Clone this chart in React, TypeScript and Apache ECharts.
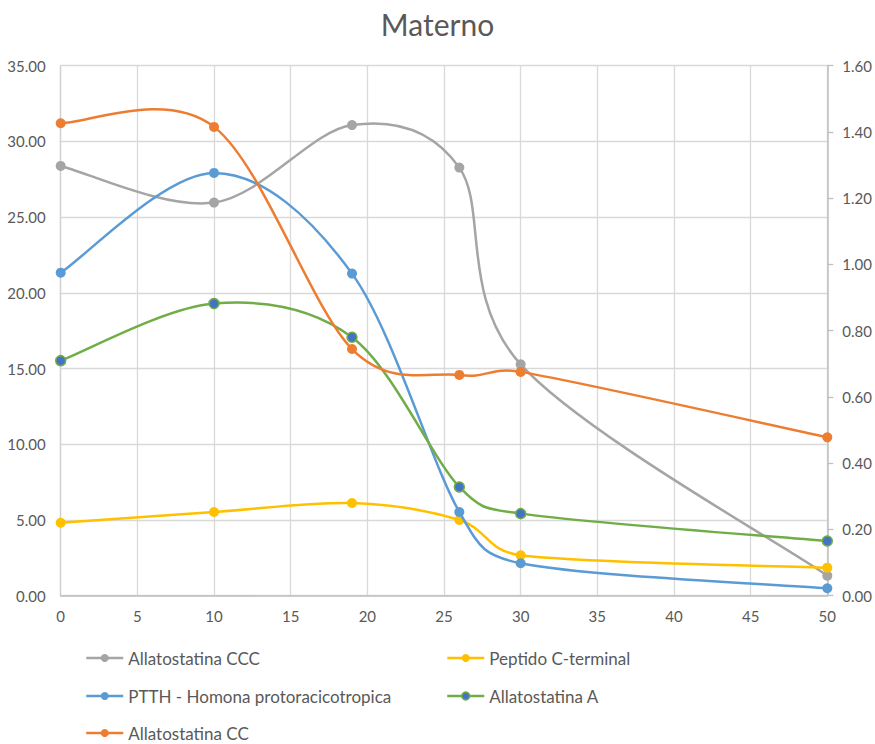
import React, { useEffect, useRef } from "react";
import * as echarts from "echarts";

// Sampling times (x axis)
const hours = [0, 10, 19, 26, 30, 50];

// Series values
const allatostatinaCCC = [28.38, 25.96, 31.08, 28.27, 15.28, 1.32];
const peptidoCTerminal = [4.82, 5.53, 6.12, 5.0, 2.67, 1.85];
const ptthHomona = [21.33, 27.92, 21.27, 5.53, 2.14, 0.49];
const allatostatinaA = [15.52, 19.29, 17.07, 7.18, 5.42, 3.61];
const allatostatinaCC = [31.2, 30.96, 16.29, 14.58, 14.78, 10.46];

const seriesNames = [
  "Allatostatina CCC",
  "Peptido C-terminal",
  "PTTH - Homona protoracicotropica",
  "Allatostatina A",
  "Allatostatina CC",
];

const FONT = "Lato, 'Noto Sans', sans-serif";
const TEXT = "#595959";

type SeriesDef = {
  name: string;
  values: number[];
  color: string;
  fill: string;
};

const defs: SeriesDef[] = [
  { name: seriesNames[0], values: allatostatinaCCC, color: "#A5A5A5", fill: "#A5A5A5" },
  { name: seriesNames[1], values: peptidoCTerminal, color: "#FFC000", fill: "#FFC000" },
  { name: seriesNames[2], values: ptthHomona, color: "#5B9BD5", fill: "#5B9BD5" },
  { name: seriesNames[3], values: allatostatinaA, color: "#70AD47", fill: "#4472C4" },
  { name: seriesNames[4], values: allatostatinaCC, color: "#ED7D31", fill: "#ED7D31" },
];

// Control point offset: a sixth of the neighbour-to-neighbour vector,
// never longer than half of the segment it belongs to.
function controlOffset(from: number[], to: number[], segLen: number) {
  const vx = (to[0] - from[0]) / 6;
  const vy = (to[1] - from[1]) / 6;
  const len = Math.hypot(vx, vy);
  const maxLen = segLen / 2;
  const k = len > maxLen && len > 0 ? maxLen / len : 1;
  return [vx * k, vy * k];
}

// Smoothed curve drawn as one cubic Bezier per pair of neighbouring points.
function curveSeries(d: SeriesDef, z: number) {
  return {
    type: "custom",
    name: d.name,
    z,
    silent: true,
    data: hours.map((h, i) => [h, d.values[i]]),
    encode: { x: 0, y: 1 },
    renderItem: (params: any, api: any) => {
      const i = params.dataIndex;
      const n = hours.length;
      if (i >= n - 1) return null;
      const pts = hours.map((h, j) => api.coord([h, d.values[j]]));
      const prev = pts[Math.max(i - 1, 0)];
      const a = pts[i];
      const b = pts[i + 1];
      const next = pts[Math.min(i + 2, n - 1)];
      const segLen = Math.hypot(b[0] - a[0], b[1] - a[1]);
      const o1 = controlOffset(prev, b, segLen);
      const o2 = controlOffset(a, next, segLen);
      return {
        type: "bezierCurve",
        shape: {
          x1: a[0],
          y1: a[1],
          x2: b[0],
          y2: b[1],
          cpx1: a[0] + o1[0],
          cpy1: a[1] + o1[1],
          cpx2: b[0] - o2[0],
          cpy2: b[1] - o2[1],
        },
        style: { stroke: d.color, lineWidth: 2.5, fill: null },
      };
    },
  };
}

function markerSeries(d: SeriesDef, z: number) {
  return {
    type: "line",
    name: d.name,
    z,
    silent: true,
    data: hours.map((h, i) => [h, d.values[i]]),
    symbol: "circle",
    symbolSize: 10,
    showSymbol: true,
    lineStyle: { opacity: 0 },
    itemStyle: {
      color: d.fill,
      borderColor: d.color,
      borderWidth: d.fill === d.color ? 0 : 1.5,
      opacity: 1,
    },
    emphasis: { disabled: true },
  };
}

// One legend block per entry, laid out in two columns.
const legendSlots = [
  { def: 0, left: 85, top: 648 },
  { def: 1, left: 446, top: 648 },
  { def: 2, left: 85, top: 686 },
  { def: 3, left: 446, top: 686 },
  { def: 4, left: 85, top: 723 },
];

function legendBlock(slot: { def: number; left: number; top: number }) {
  const d = defs[slot.def];
  return {
    left: slot.left,
    top: slot.top,
    padding: 0,
    orient: "horizontal",
    itemWidth: 37,
    itemHeight: 10,
    selectedMode: false,
    textStyle: { fontSize: 17, color: TEXT, fontFamily: FONT, lineHeight: 20 },
    data: [
      {
        name: d.name,
        itemStyle: {
          color: d.fill,
          borderColor: d.color,
          borderWidth: d.fill === d.color ? 0 : 1.5,
          opacity: 1,
        },
        lineStyle: { color: d.color, width: 2.5, opacity: 1 },
      },
    ],
  };
}

export default function App() {
  const ref = useRef<HTMLDivElement>(null);

  useEffect(() => {
    if (!ref.current) return;
    const chart = echarts.init(ref.current, undefined, { renderer: "svg" });

    const series: any[] = [];
    defs.forEach((d, idx) => {
      series.push(markerSeries(d, 3 + idx * 2));
      series.push(curveSeries(d, 2 + idx * 2));
    });

    chart.setOption({
      animation: false,
      backgroundColor: "#ffffff",
      title: {
        text: "Materno",
        left: "center",
        top: 4,
        textStyle: { fontSize: 30, fontWeight: "normal", color: TEXT, fontFamily: FONT },
      },
      grid: { left: 60.7, right: 47.7, top: 65.7, bottom: 148.3, containLabel: false },
      legend: legendSlots.map(legendBlock),
      xAxis: {
        type: "value",
        min: 0,
        max: 50,
        interval: 5,
        axisLine: { show: true, lineStyle: { color: "#BFBFBF", width: 1.5 } },
        axisTick: { show: false },
        axisLabel: { color: TEXT, fontSize: 15, fontFamily: FONT, margin: 13 },
        splitLine: { show: true, lineStyle: { color: "#D9D9D9", width: 1.3 } },
      },
      yAxis: [
        {
          type: "value",
          position: "left",
          min: 0,
          max: 35,
          interval: 5,
          axisLine: { show: true, lineStyle: { color: "#D0D0D0", width: 1.3 } },
          axisTick: { show: false },
          axisLabel: {
            color: TEXT,
            fontSize: 15,
            fontFamily: FONT,
            margin: 15,
            formatter: (v: number) => v.toFixed(2),
          },
          splitLine: { show: true, lineStyle: { color: "#D9D9D9", width: 1.3 } },
        },
        {
          type: "value",
          position: "right",
          min: 0,
          max: 1.6,
          interval: 0.2,
          axisLine: { show: true, lineStyle: { color: "#BFBFBF", width: 1.5 } },
          axisTick: { show: true, length: 6, lineStyle: { color: "#BFBFBF", width: 1.3 } },
          axisLabel: {
            color: TEXT,
            fontSize: 15,
            fontFamily: FONT,
            margin: 15,
            formatter: (v: number) => v.toFixed(2),
          },
          splitLine: { show: false },
        },
      ],
      series,
    });

    return () => chart.dispose();
  }, []);

  return (
    <div
      ref={ref}
      style={{ position: "fixed", left: 0, top: 0, width: 875, height: 744, background: "#fff" }}
    />
  );
}
